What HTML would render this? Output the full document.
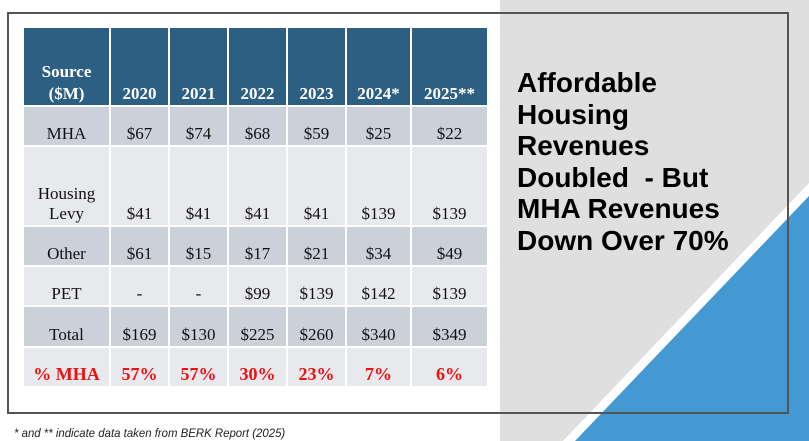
<!DOCTYPE html>
<html><head><meta charset="utf-8"><style>
body{margin:0;width:809px;height:441px;overflow:hidden;background:#fff;position:relative;font-family:"Liberation Serif",serif}
#panel{position:absolute;left:500px;top:0;width:309px;height:441px;background:#dfdfdf}
svg{position:absolute;left:0;top:0}
#frame{position:absolute;left:7px;top:12px;width:778px;height:398px;border:2px solid #555;box-sizing:content-box}
table{position:absolute;left:22px;top:26px;border-collapse:collapse;font-size:17px;color:#111}
td,th{border:2px solid #fff;padding:0;text-align:center;vertical-align:bottom}
td{padding-bottom:1px}
th{background:#2d5f82;color:#fff;font-weight:bold;height:77px;font-size:17px;line-height:22px}
tr.a td{background:#cbd1d9}
tr.b td{background:#e8e9ec}
tr.r td{color:#f01010;font-weight:bold;font-size:18px}
#title{position:absolute;left:517px;top:67px;font:bold 28px/31.6px "Liberation Sans",sans-serif;color:#000}
#note{position:absolute;left:14px;top:426px;font:italic 12px "Liberation Sans",sans-serif;color:#222;transform:scaleX(0.95);transform-origin:left}
</style></head><body>
<div id="panel"></div>
<svg width="809" height="441">
<polygon points="563,441 809,183 809,441" fill="#fff"/>
<polygon points="575,441 809,196 809,441" fill="#4499d3"/>
</svg>
<div id="frame"></div>
<table>
<tr><th style="width:85px">Source<br>($M)</th><th style="width:57px">2020</th><th style="width:57px">2021</th><th style="width:57px">2022</th><th style="width:57px">2023</th><th style="width:63px">2024*</th><th style="width:75px">2025**</th></tr>
<tr class="a" style="height:40px"><td>MHA</td><td>$67</td><td>$74</td><td>$68</td><td>$59</td><td>$25</td><td>$22</td></tr>
<tr class="b" style="height:80px"><td>Housing<br>Levy</td><td>$41</td><td>$41</td><td>$41</td><td>$41</td><td>$139</td><td>$139</td></tr>
<tr class="a" style="height:40px"><td>Other</td><td>$61</td><td>$15</td><td>$17</td><td>$21</td><td>$34</td><td>$49</td></tr>
<tr class="b" style="height:40px"><td>PET</td><td>-</td><td>-</td><td>$99</td><td>$139</td><td>$142</td><td>$139</td></tr>
<tr class="a" style="height:41px"><td>Total</td><td>$169</td><td>$130</td><td>$225</td><td>$260</td><td>$340</td><td>$349</td></tr>
<tr class="b r" style="height:40px"><td>% MHA</td><td>57%</td><td>57%</td><td>30%</td><td>23%</td><td>7%</td><td>6%</td></tr>
</table>
<div id="title">Affordable<br>Housing<br>Revenues<br>Doubled&nbsp; - But<br>MHA Revenues<br>Down Over 70%</div>
<div id="note">* and ** indicate data taken from BERK Report (2025)</div>
</body></html>
